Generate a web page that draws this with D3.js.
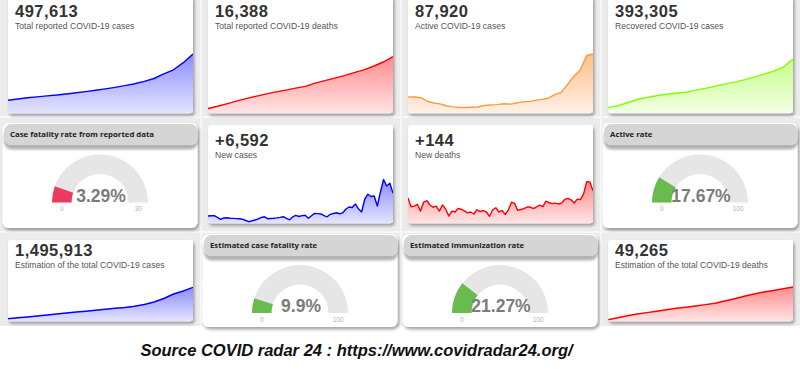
<!DOCTYPE html>
<html>
<head>
<meta charset="utf-8">
<script src="https://cdn.jsdelivr.net/npm/d3@7"></script>
<style>
  html, body { margin: 0; padding: 0; background: #fff; }
  svg { display: block; }
</style>
</head>
<body>
<div id="chart"></div>
<script>
// values
const totalCases = [110000, 120000, 130000, 138000, 146000, 153000, 162000, 172000, 182000, 193000,
  205000, 218000, 232000, 248000, 268000, 292000, 330000, 365000, 425000, 497613];
const totalDeaths = [1370, 2040, 2790, 3580, 4340, 4980, 5620, 6200, 6720, 7280,
  7800, 8730, 9460, 10190, 10920, 11760, 12570, 13620, 14850, 16388];
const activeCases = [24300, 24100, 23100, 17900, 15200, 14000, 11200, 9500, 8500, 8600,
  8900, 9400, 11600, 12500, 12800, 14200, 13600, 15200, 17000, 17600,
  19100, 20600, 22400, 27600, 31000, 42500, 55100, 64100, 85700, 87920];
const recoveredCases = [40800, 54600, 76500, 99800, 114300, 126700, 138400, 145700, 152900, 167500,
  180600, 195900, 211200, 225800, 242500, 262200, 284000, 305900, 335000, 393305];
const newCases = [1610, 1650, 1670, 1280, 880, 1170, 1210, 1120, 1080, 1030,
  990, 900, 620, 350, 550, 730, 950, 1280, 1430, 1010,
  1060, 1100, 1190, 1300, 1450, 1100, 770, 1390, 1760, 1500,
  1690, 1760, 1100, 1650, 2180, 2130, 2050, 1670, 1430, 1980,
  2160, 2330, 2110, 2310, 3150, 3590, 3480, 4250, 3150, 2490,
  5350, 6400, 5900, 6010, 3810, 6890, 9640, 8210, 8800, 6592];
const newDeaths = [112, 73, 76, 84, 54, 94, 100, 81, 71, 76,
  54, 81, 63, 32, 54, 50, 66, 62, 55, 46,
  50, 41, 60, 52, 56, 50, 31, 59, 69, 50,
  57, 39, 59, 93, 88, 57, 61, 65, 72, 72,
  65, 73, 80, 74, 98, 91, 87, 89, 85, 90,
  106, 110, 104, 90, 107, 105, 130, 184, 183, 144];
const estCases = [114000, 154000, 189000, 233000, 277000, 321000, 365000, 409000, 444000, 488000,
  528000, 572000, 607000, 664000, 739000, 849000, 1003000, 1201000, 1333000, 1495913];
const estDeaths = [2300, 5030, 7900, 10480, 12490, 14500, 16660, 18670, 20250, 21970,
  23980, 25850, 29150, 32450, 36040, 39200, 42070, 44230, 46670, 49265];

const sparkNumbers = ['497,613', '16,388', '87,920', '393,305', '+6,592', '+144', '1,495,913', '49,265'];
const sparkLabels = ['Total reported COVID-19 cases', 'Total reported COVID-19 deaths', 'Active COVID-19 cases',
  'Recovered COVID-19 cases', 'New cases', 'New deaths', 'Estimation of the total COVID-19 cases',
  'Estimation of the total COVID-19 deaths'];

const gaugeTitles = ['Case fatality rate from reported data', 'Active rate', 'Estimated case fatality rate',
  'Estimated immunization rate'];
const gaugeValues = [3.29, 17.67, 9.9, 21.27];
const gaugeLabels = ['3.29%', '17.67%', '9.9%', '21.27%'];
const gaugeMax = [30, 100, 100, 100];

const caption = 'Source COVID radar 24 : https://www.covidradar24.org/';

const width = 800, height = 369;

const palette = {
  blue: { line: '#0000ff', top: '#8c8cff', bottom: '#e4e4ff' },
  red: { line: '#ff0000', top: '#ff8c8c', bottom: '#ffe4e4' },
  orange: { line: '#ff9a3c', top: '#fcc08c', bottom: '#fff1e6' },
  green: { line: '#80ff00', top: '#c6ff8a', bottom: '#f3ffe6' }
};

// tile layout (pixels)
const sparkTiles = [
  { data: totalCases, pal: 'blue', col: 0, top: -4, bottom: 113.3, peak: 54, numY: 16.7, labY: 29 },
  { data: totalDeaths, pal: 'red', col: 1, top: -4, bottom: 113.3, peak: 56.7, numY: 16.7, labY: 29 },
  { data: activeCases, pal: 'orange', col: 2, top: -4, bottom: 113.3, peak: 54, numY: 16.7, labY: 29 },
  { data: recoveredCases, pal: 'green', col: 3, top: -4, bottom: 113.3, peak: 59, numY: 16.7, labY: 29 },
  { data: newCases, pal: 'blue', col: 1, top: 125, bottom: 223.3, peak: 179.5, numY: 146, labY: 157.5 },
  { data: newDeaths, pal: 'red', col: 2, top: 125, bottom: 223.3, peak: 181.7, numY: 146, labY: 157.5 },
  { data: estCases, pal: 'blue', col: 0, top: 240, bottom: 321.3, peak: 287.3, numY: 256, labY: 267.5 },
  { data: estDeaths, pal: 'red', col: 3, top: 240, bottom: 321.3, peak: 287, numY: 256, labY: 267.5 }
];

const gaugeTiles = [
  { col: 0, head: 124, bodyBottom: 228, cy: 202.5 },
  { col: 3, head: 124, bodyBottom: 228, cy: 202.5 },
  { col: 1, head: 235, bodyBottom: 327, cy: 313 },
  { col: 2, head: 235, bodyBottom: 327, cy: 313 }
];

const svg = d3.select('#chart').append('svg')
  .attr('width', width)
  .attr('height', height);

const defs = svg.append('defs');

const cardShadow = defs.append('filter').attr('id', 'cardShadow')
  .attr('x', '-10%').attr('y', '-10%').attr('width', '130%').attr('height', '130%');
cardShadow.append('feDropShadow')
  .attr('dx', 1.5).attr('dy', 2.5).attr('stdDeviation', 1.6)
  .attr('flood-color', '#000').attr('flood-opacity', 0.35);

const headShadow = defs.append('filter').attr('id', 'headShadow')
  .attr('x', '-5%').attr('y', '-20%').attr('width', '115%').attr('height', '170%');
headShadow.append('feDropShadow')
  .attr('dx', 0).attr('dy', 4.5).attr('stdDeviation', 1.2)
  .attr('flood-color', '#000').attr('flood-opacity', 0.3);

Object.entries(palette).forEach(([name, p]) => {
  const g = defs.append('linearGradient').attr('id', 'grad-' + name)
    .attr('x1', 0).attr('y1', 0).attr('x2', 0).attr('y2', 1);
  g.append('stop').attr('offset', '0%').attr('stop-color', p.top);
  g.append('stop').attr('offset', '100%').attr('stop-color', p.bottom);
});

// dashboard background
svg.append('rect').attr('x', 0).attr('y', 0).attr('width', width).attr('height', 326).attr('fill', '#ececec');
[200, 400, 600].forEach(x => {
  svg.append('rect').attr('x', x).attr('y', 0).attr('width', 2).attr('height', 326).attr('fill', '#f7f7f7');
});
[116, 231].forEach(y => {
  svg.append('rect').attr('x', 0).attr('y', y).attr('width', width).attr('height', 2).attr('fill', '#f7f7f7');
});

// sparkline cards
sparkTiles.forEach((t, i) => {
  const x0 = 8 + t.col * 200, x1 = 193 + t.col * 200;
  const g = svg.append('g');

  g.append('rect')
    .attr('x', x0).attr('y', t.top)
    .attr('width', x1 - x0).attr('height', t.bottom - t.top)
    .attr('rx', 3)
    .attr('fill', '#fff')
    .attr('filter', 'url(#cardShadow)');

  const clipId = 'clip' + i;
  defs.append('clipPath').attr('id', clipId)
    .append('rect')
    .attr('x', x0).attr('y', t.top)
    .attr('width', x1 - x0).attr('height', t.bottom - t.top)
    .attr('rx', 3);

  const x = d3.scaleLinear().domain([0, t.data.length - 1]).range([x0, x1]);
  const y = d3.scaleLinear().domain([0, d3.max(t.data)]).range([t.bottom, t.peak]);

  const area = d3.area()
    .x((d, j) => x(j))
    .y0(t.bottom)
    .y1(d => y(d));

  const line = d3.line()
    .x((d, j) => x(j))
    .y(d => y(d));

  const plot = g.append('g').attr('clip-path', `url(#${clipId})`);
  plot.append('path')
    .datum(t.data)
    .attr('fill', `url(#grad-${t.pal})`)
    .attr('d', area);
  plot.append('path')
    .datum(t.data)
    .attr('fill', 'none')
    .attr('stroke', palette[t.pal].line)
    .attr('stroke-width', 1.4)
    .attr('stroke-linejoin', 'round')
    .attr('d', line);

  g.append('text')
    .attr('x', x0 + 7).attr('y', t.numY)
    .attr('font-family', 'Liberation Sans, Arial, sans-serif')
    .attr('font-weight', 'bold')
    .attr('font-size', 16.5)
    .attr('letter-spacing', 0.5)
    .attr('fill', '#333')
    .text(sparkNumbers[i]);

  g.append('text')
    .attr('x', x0 + 7).attr('y', t.labY)
    .attr('font-family', 'Liberation Sans, Arial, sans-serif')
    .attr('font-size', 8.6)
    .attr('fill', '#555')
    .text(sparkLabels[i]);
});

// gauge tiles
const outerR = 48, innerR = 28.5;
const arc = d3.arc().innerRadius(innerR).outerRadius(outerR);
const angle = d3.scaleLinear().range([-Math.PI / 2, Math.PI / 2]);

gaugeTiles.forEach((t, i) => {
  const ox = t.col * 200;
  const cx = 100 + ox;
  const g = svg.append('g');

  g.append('rect')
    .attr('x', ox + 2.5).attr('y', t.head - 1)
    .attr('width', 195).attr('height', t.bodyBottom - t.head + 1)
    .attr('rx', 6)
    .attr('fill', '#fff')
    .attr('filter', 'url(#cardShadow)');

  g.append('rect')
    .attr('x', ox + 4).attr('y', t.head)
    .attr('width', 194).attr('height', 21)
    .attr('rx', 8)
    .attr('fill', '#d5d5d5')
    .attr('filter', 'url(#headShadow)');

  g.append('text')
    .attr('x', ox + 10).attr('y', t.head + 12.8)
    .attr('font-family', 'Open Sans, sans-serif')
    .attr('font-weight', 'bold')
    .attr('font-size', 7.8)
    .attr('fill', '#222')
    .text(gaugeTitles[i]);

  angle.domain([0, gaugeMax[i]]);
  const gauge = g.append('g').attr('transform', `translate(${cx},${t.cy})`);

  gauge.append('path')
    .attr('d', arc({ startAngle: -Math.PI / 2, endAngle: Math.PI / 2 }))
    .attr('fill', '#e6e6e6');

  gauge.append('path')
    .attr('d', arc({ startAngle: -Math.PI / 2, endAngle: angle(gaugeValues[i]) }))
    .attr('fill', i === 0 ? '#ec3a5e' : '#6abb4e');

  gauge.append('text')
    .attr('x', 1).attr('y', -1)
    .attr('text-anchor', 'middle')
    .attr('font-family', 'Liberation Sans, Arial, sans-serif')
    .attr('font-weight', 'bold')
    .attr('font-size', 17.5)
    .attr('fill', '#7b7b7b')
    .text(gaugeLabels[i]);

  const mid = (outerR + innerR) / 2;
  [[-mid, '0'], [mid, String(gaugeMax[i])]].forEach(([dx, s]) => {
    gauge.append('text')
      .attr('x', dx).attr('y', 8.5)
      .attr('text-anchor', 'middle')
      .attr('font-family', 'Liberation Sans, Arial, sans-serif')
      .attr('font-size', 6.5)
      .attr('fill', '#b3b3b3')
      .text(s);
  });
});

// caption
svg.append('text')
  .attr('x', 356.5).attr('y', 356)
  .attr('text-anchor', 'middle')
  .attr('font-family', 'Liberation Sans, Arial, sans-serif')
  .attr('font-weight', 'bold')
  .attr('font-style', 'italic')
  .attr('font-size', 16.5)
  .attr('fill', '#111')
  .text(caption);
</script>
</body>
</html>
